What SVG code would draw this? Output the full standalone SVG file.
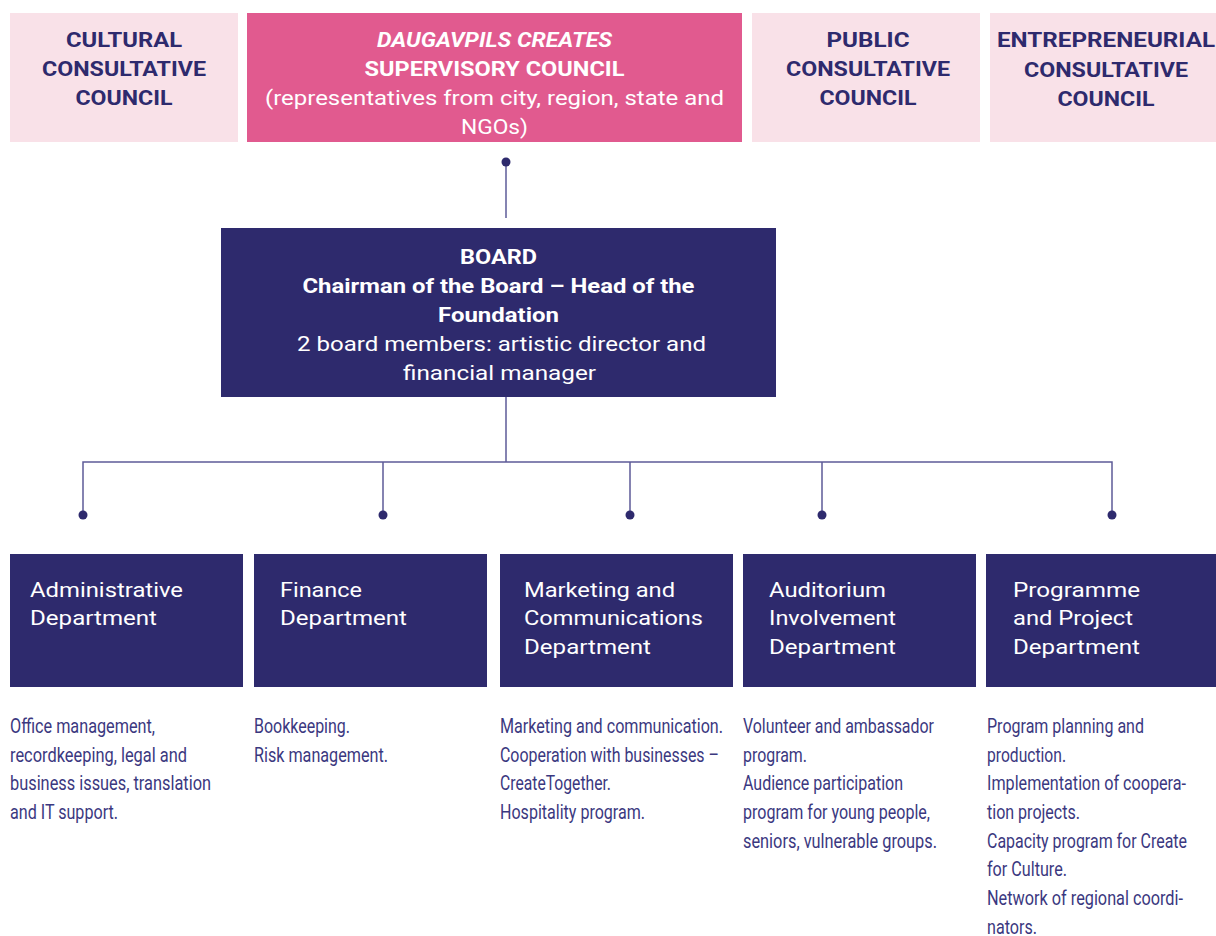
<svg xmlns="http://www.w3.org/2000/svg" width="1216" height="936" viewBox="0 0 1216 936">
<defs>
<style>
.lt{fill:#f9e1e8}
.pk{fill:#e15a8f}
.nv{fill:#2e2a6d}
.hd{font-family:Roboto,"Liberation Sans",sans-serif;font-weight:bold;font-size:21px;fill:#2e2a6d;text-anchor:middle}
.wb{font-family:Roboto,"Liberation Sans",sans-serif;font-weight:bold;font-size:21px;fill:#ffffff;text-anchor:middle}
.wr{font-family:Roboto,"Liberation Sans",sans-serif;font-weight:normal;font-size:21px;fill:#ffffff;text-anchor:middle}
.dt{font-family:Roboto,"Liberation Sans",sans-serif;font-size:21px;fill:#ffffff}
.ds{font-family:Roboto,"Liberation Sans",sans-serif;font-size:20px;fill:#3b3880}
.ln{stroke:#5d5b98;stroke-width:1.5;fill:none}
.dot{fill:#2e2a6d}
</style>
</defs>
<rect width="1216" height="936" fill="#ffffff"/>

<g id="connectors">
<path class="ln" d="M506 162 V218"/>
<circle class="dot" cx="506" cy="162" r="4.5"/>
<path class="ln" d="M506 397 V462 M83 515 V462 H1112 V515 M383 462 V515 M630 462 V515 M822 462 V515"/>
<circle class="dot" cx="83" cy="515" r="4.5"/>
<circle class="dot" cx="383" cy="515" r="4.5"/>
<circle class="dot" cx="630" cy="515" r="4.5"/>
<circle class="dot" cx="822" cy="515" r="4.5"/>
<circle class="dot" cx="1112" cy="515" r="4.5"/>
</g>

<g id="cultural">
<rect class="lt" x="10" y="13" width="228" height="129"/>
<text class="hd" x="124" y="47" textLength="116" lengthAdjust="spacingAndGlyphs">CULTURAL</text>
<text class="hd" x="124" y="76" textLength="164" lengthAdjust="spacingAndGlyphs">CONSULTATIVE</text>
<text class="hd" x="124" y="105" textLength="97" lengthAdjust="spacingAndGlyphs">COUNCIL</text>
</g>

<g id="supervisory">
<rect class="pk" x="247" y="13" width="495" height="129"/>
<text class="wb" x="494.5" y="47" font-style="italic" textLength="235" lengthAdjust="spacingAndGlyphs">DAUGAVPILS CREATES</text>
<text class="wb" x="494.5" y="76" textLength="260" lengthAdjust="spacingAndGlyphs">SUPERVISORY COUNCIL</text>
<text class="wr" x="494.5" y="105" textLength="459" lengthAdjust="spacingAndGlyphs">(representatives from city, region, state and</text>
<text class="wr" x="494.5" y="134" textLength="67" lengthAdjust="spacingAndGlyphs">NGOs)</text>
</g>

<g id="public">
<rect class="lt" x="752" y="13" width="228" height="129"/>
<text class="hd" x="868" y="47" textLength="83" lengthAdjust="spacingAndGlyphs">PUBLIC</text>
<text class="hd" x="868" y="76" textLength="164" lengthAdjust="spacingAndGlyphs">CONSULTATIVE</text>
<text class="hd" x="868" y="105" textLength="97" lengthAdjust="spacingAndGlyphs">COUNCIL</text>
</g>

<g id="entrepreneurial">
<rect class="lt" x="990" y="13" width="226" height="129"/>
<text class="hd" x="1106" y="47" textLength="218" lengthAdjust="spacingAndGlyphs">ENTREPRENEURIAL</text>
<text class="hd" x="1106" y="77" textLength="164" lengthAdjust="spacingAndGlyphs">CONSULTATIVE</text>
<text class="hd" x="1106" y="106" textLength="97" lengthAdjust="spacingAndGlyphs">COUNCIL</text>
</g>

<g id="board">
<rect class="nv" x="221" y="228" width="555" height="169"/>
<text class="wb" x="498.5" y="264" textLength="77" lengthAdjust="spacingAndGlyphs">BOARD</text>
<text class="wb" x="498.5" y="293" textLength="392" lengthAdjust="spacingAndGlyphs">Chairman of the Board – Head of the</text>
<text class="wb" x="498.5" y="322" textLength="121" lengthAdjust="spacingAndGlyphs">Foundation</text>
<text class="wr" x="501.5" y="351" textLength="409" lengthAdjust="spacingAndGlyphs">2 board members: artistic director and</text>
<text class="wr" x="499.5" y="380" textLength="193" lengthAdjust="spacingAndGlyphs">financial manager</text>
</g>

<g id="administrative">
<rect class="nv" x="10" y="554" width="233" height="133"/>
<text class="dt" x="30" y="597" textLength="153" lengthAdjust="spacingAndGlyphs">Administrative</text>
<text class="dt" x="30" y="625" textLength="127" lengthAdjust="spacingAndGlyphs">Department</text>
<text class="ds" x="10" y="733" textLength="145" lengthAdjust="spacingAndGlyphs">Office management,</text>
<text class="ds" x="10" y="762" textLength="177" lengthAdjust="spacingAndGlyphs">recordkeeping, legal and</text>
<text class="ds" x="10" y="790" textLength="201" lengthAdjust="spacingAndGlyphs">business issues, translation</text>
<text class="ds" x="10" y="819" textLength="108" lengthAdjust="spacingAndGlyphs">and IT support.</text>
</g>

<g id="finance">
<rect class="nv" x="254" y="554" width="233" height="133"/>
<text class="dt" x="280" y="597" textLength="82" lengthAdjust="spacingAndGlyphs">Finance</text>
<text class="dt" x="280" y="625" textLength="127" lengthAdjust="spacingAndGlyphs">Department</text>
<text class="ds" x="254" y="733" textLength="96" lengthAdjust="spacingAndGlyphs">Bookkeeping.</text>
<text class="ds" x="254" y="762" textLength="134" lengthAdjust="spacingAndGlyphs">Risk management.</text>
</g>

<g id="marketing">
<rect class="nv" x="500" y="554" width="233" height="133"/>
<text class="dt" x="524" y="597" textLength="151" lengthAdjust="spacingAndGlyphs">Marketing and</text>
<text class="dt" x="524" y="625" textLength="179" lengthAdjust="spacingAndGlyphs">Communications</text>
<text class="dt" x="524" y="654" textLength="127" lengthAdjust="spacingAndGlyphs">Department</text>
<text class="ds" x="500" y="733" textLength="223" lengthAdjust="spacingAndGlyphs">Marketing and communication.</text>
<text class="ds" x="500" y="762" textLength="219" lengthAdjust="spacingAndGlyphs">Cooperation with businesses –</text>
<text class="ds" x="500" y="790" textLength="111" lengthAdjust="spacingAndGlyphs">CreateTogether.</text>
<text class="ds" x="500" y="819" textLength="145" lengthAdjust="spacingAndGlyphs">Hospitality program.</text>
</g>

<g id="auditorium">
<rect class="nv" x="743" y="554" width="233" height="133"/>
<text class="dt" x="769" y="597" textLength="117" lengthAdjust="spacingAndGlyphs">Auditorium</text>
<text class="dt" x="769" y="625" textLength="127" lengthAdjust="spacingAndGlyphs">Involvement</text>
<text class="dt" x="769" y="654" textLength="127" lengthAdjust="spacingAndGlyphs">Department</text>
<text class="ds" x="743" y="733" textLength="191" lengthAdjust="spacingAndGlyphs">Volunteer and ambassador</text>
<text class="ds" x="743" y="762" textLength="64" lengthAdjust="spacingAndGlyphs">program.</text>
<text class="ds" x="743" y="790" textLength="160" lengthAdjust="spacingAndGlyphs">Audience participation</text>
<text class="ds" x="743" y="819" textLength="187" lengthAdjust="spacingAndGlyphs">program for young people,</text>
<text class="ds" x="743" y="848" textLength="194" lengthAdjust="spacingAndGlyphs">seniors, vulnerable groups.</text>
</g>

<g id="programme">
<rect class="nv" x="986" y="554" width="230" height="133"/>
<text class="dt" x="1013" y="597" textLength="127" lengthAdjust="spacingAndGlyphs">Programme</text>
<text class="dt" x="1013" y="625" textLength="120" lengthAdjust="spacingAndGlyphs">and Project</text>
<text class="dt" x="1013" y="654" textLength="127" lengthAdjust="spacingAndGlyphs">Department</text>
<text class="ds" x="987" y="733" textLength="157" lengthAdjust="spacingAndGlyphs">Program planning and</text>
<text class="ds" x="987" y="762" textLength="79" lengthAdjust="spacingAndGlyphs">production.</text>
<text class="ds" x="987" y="790" textLength="199" lengthAdjust="spacingAndGlyphs">Implementation of coopera-</text>
<text class="ds" x="987" y="819" textLength="93" lengthAdjust="spacingAndGlyphs">tion projects.</text>
<text class="ds" x="987" y="848" textLength="200" lengthAdjust="spacingAndGlyphs">Capacity program for Create</text>
<text class="ds" x="987" y="876" textLength="80" lengthAdjust="spacingAndGlyphs">for Culture.</text>
<text class="ds" x="987" y="905" textLength="196" lengthAdjust="spacingAndGlyphs">Network of regional coordi-</text>
<text class="ds" x="987" y="934" textLength="50" lengthAdjust="spacingAndGlyphs">nators.</text>
</g>
</svg>
